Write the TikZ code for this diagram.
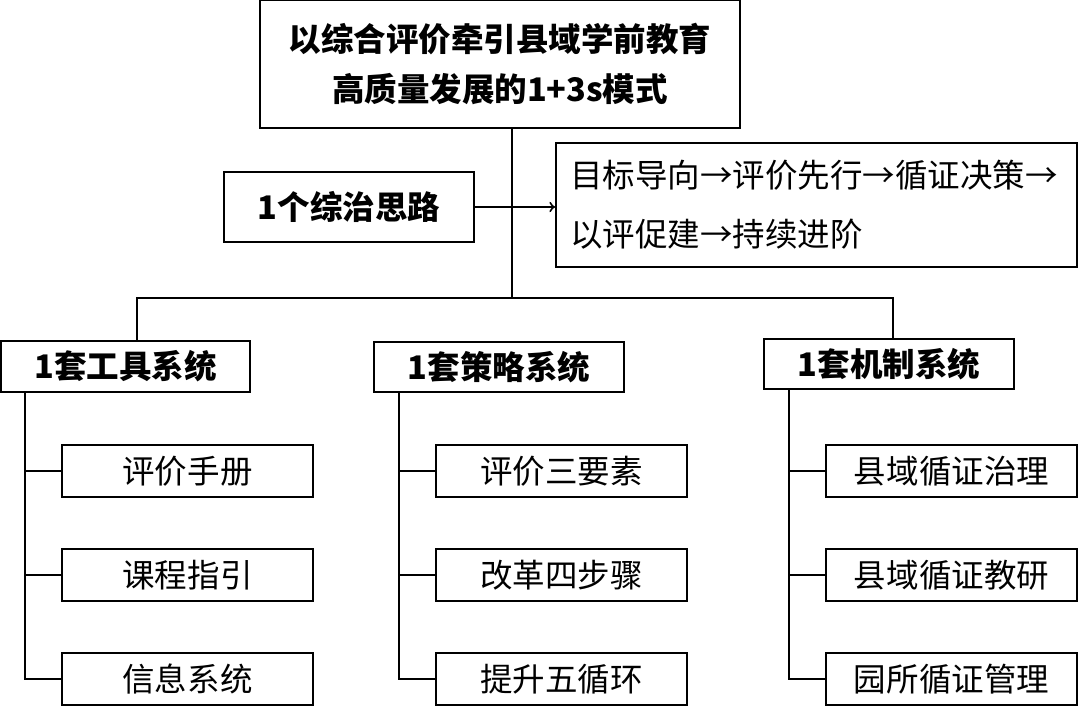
\documentclass[tikz,border=0pt]{standalone}
\usepackage{fontspec}
\setmainfont{Noto Sans CJK SC}
\tikzset{
  box/.style={draw, line width=0.04cm, inner sep=0pt, align=center, font=\fontsize{18.5}{29}\selectfont},
  headbox/.style={box, font=\fontsize{18.5}{29}\selectfont\bfseries},
  sysbox/.style={headbox, minimum width=5cm, minimum height=1.02cm},
  leafbox/.style={box, minimum width=5.02cm, minimum height=1.04cm},
  link/.style={line width=0.04cm},
}
\begin{document}
\begin{tikzpicture}[x=0.02cm, y=-0.02cm]
\useasboundingbox (0,0) rectangle (1080,716);

% Drawing title and the idea
\node[headbox, minimum width=9.6cm, minimum height=2.56cm] (title) at (500,64) {以综合评价牵引县域学前教育\\高质量发展的1+3s模式};
\node[headbox, minimum width=5cm, minimum height=1.4cm] (idea) at (349,207) {1个综治思路};
\node[box, align=left, text width=9.86cm, minimum height=2.48cm, inner xsep=0.28cm, font=\fontsize{18.5}{33.5}\selectfont] (path) at (816.5,205) {目标导向→评价先行→循证决策→\\以评促建→持续进阶};

% Drawing three systems
\node[sysbox] (tool) at (125.5,366.5) {1套工具系统};
\node[sysbox] (strat) at (499,367) {1套策略系统};
\node[sysbox] (mech) at (889,364) {1套机制系统};

% Drawing top links
\coordinate (hub) at (512,298);
\coordinate (lt) at (137,298);
\coordinate (rt) at (893,298);
\draw[link] (hub |- title.south) -- (hub);
\draw[link] (tool.north -| lt) -- (lt) -- (rt) -- (mech.north -| rt);
\draw[link, ->] (idea.east) -- (idea.east -| path.west);

% Drawing leaves
\foreach \sys/\x/\tx/\la/\lb/\lc in {tool/187.5/25/评价手册/课程指引/信息系统, strat/561.5/399/评价三要素/改革四步骤/提升五循环, mech/951.5/789/县域循证治理/县域循证教研/园所循证管理}{
  \foreach \y/\txt [count=\i] in {471/\la, 575/\lb, 679/\lc}{
    \node[leafbox] (\sys\i) at (\x,\y) {\txt};
  }
  \draw[link] (\sys.south -| \tx,0) |- (\sys3.west);
  \draw[link] (\sys1.west -| \tx,0) -- (\sys1.west);
  \draw[link] (\sys2.west -| \tx,0) -- (\sys2.west);
}
\end{tikzpicture}
\end{document}
